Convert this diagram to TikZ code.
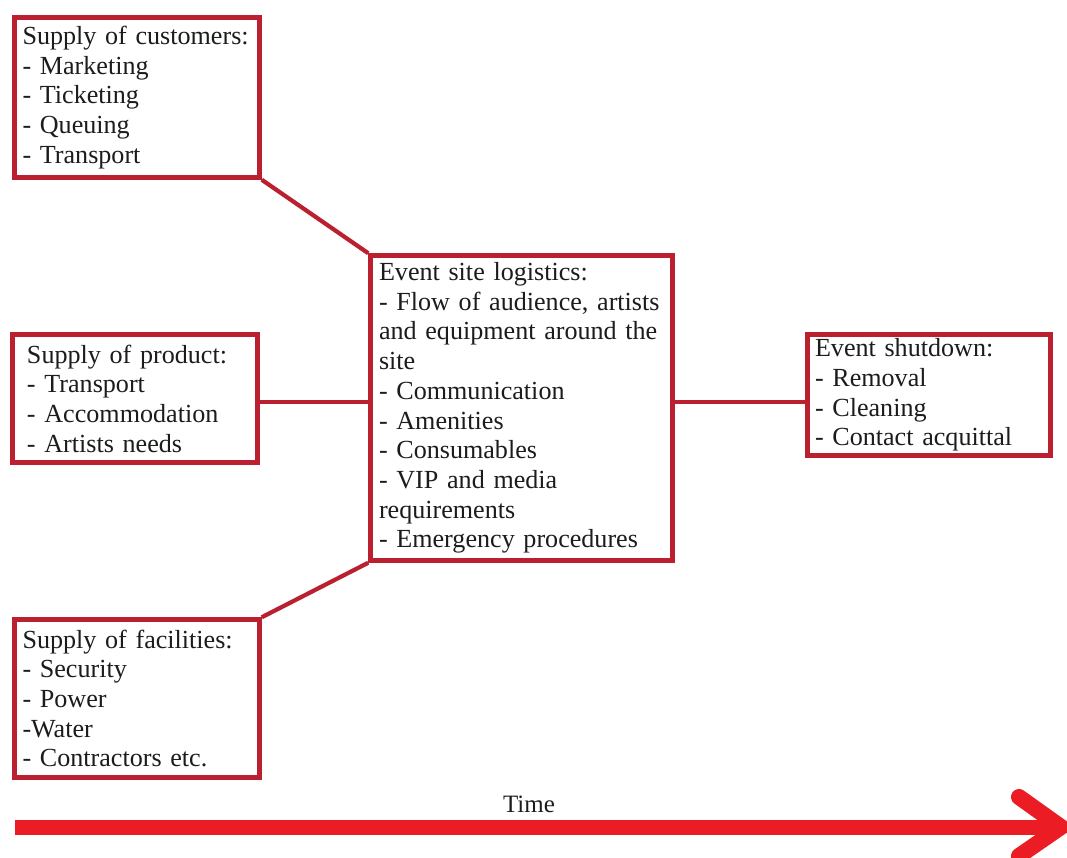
\documentclass[tikz,border=0pt]{standalone}
\usepackage{fontspec}
\setmainfont{Liberation Serif}
\definecolor{boxred}{RGB}{186,32,48}
\definecolor{arrowred}{RGB}{236,28,36}
\definecolor{inkgray}{RGB}{28,28,28}
\newcommand\boxfontsel{\fontsize{26.1}{29.7}\selectfont}
\begin{document}
\begin{tikzpicture}[x=1pt,y=-1pt,
  box/.style={draw=boxred, line width=4.5pt, rectangle, inner ysep=0pt, align=left,
    text=inkgray, font=\boxfontsel},
  link/.style={draw=boxred, line width=4.2pt},
  timearrow/.style={draw=arrowred, line width=15pt}]
\useasboundingbox[fill=white] (0,0) rectangle (1067,858);

\node[box, minimum width=245pt, minimum height=160pt, text width=229pt] (b1) at (137,97.5)
 {\mbox{Supply of customers:}\\\mbox{- Marketing}\\\mbox{- Ticketing}\\\mbox{- Queuing}\\\mbox{- Transport}};
\node[box, minimum width=302pt, minimum height=305pt, text width=285pt] (b2) at (521.5,408)
 {\mbox{Event site logistics:}\\\mbox{- Flow of audience, artists}\\\mbox{and equipment around the}\\\mbox{site}\\\mbox{- Communication}\\\mbox{- Amenities}\\\mbox{- Consumables}\\\mbox{- VIP and media}\\\mbox{requirements}\\\mbox{- Emergency procedures}};
\node[box, minimum width=245pt, minimum height=128pt, text width=216pt] (b3) at (135,398.5)
 {\mbox{Supply of product:}\\\mbox{- Transport}\\\mbox{- Accommodation}\\\mbox{- Artists needs}};
\node[box, minimum width=243pt, minimum height=121pt, text width=228pt] (b4) at (929,395)
 {\mbox{Event shutdown:}\\\mbox{- Removal}\\\mbox{- Cleaning}\\\mbox{- Contact acquittal}};
\node[box, minimum width=245pt, minimum height=158pt, text width=229pt] (b5) at (137,698.5)
 {\mbox{Supply of facilities:}\\\mbox{- Security}\\\mbox{- Power}\\\mbox{-Water}\\\mbox{- Contractors etc.}};

\coordinate (hy) at (0,402);
\draw[link] (b1.south east) -- (b2.north west);
\draw[link] (b3.east |- hy) -- (b2.west |- hy);
\draw[link] (b2.east |- hy) -- (b4.west |- hy);
\draw[link] (b5.north east) -- (b2.south west);

\node[text=inkgray, font=\fontsize{25}{28}\selectfont, anchor=base] (time) at (529,812) {Time};
\coordinate (tstart) at (15,827);
\coordinate (tend) at (1061,827);
\draw[timearrow] (tstart) -- (tend);
\draw[timearrow, line width=16pt, line cap=round, line join=miter] ([shift={(-42,-30)}]tend) -- (tend) -- ([shift={(-42,29)}]tend);
\end{tikzpicture}
\end{document}
